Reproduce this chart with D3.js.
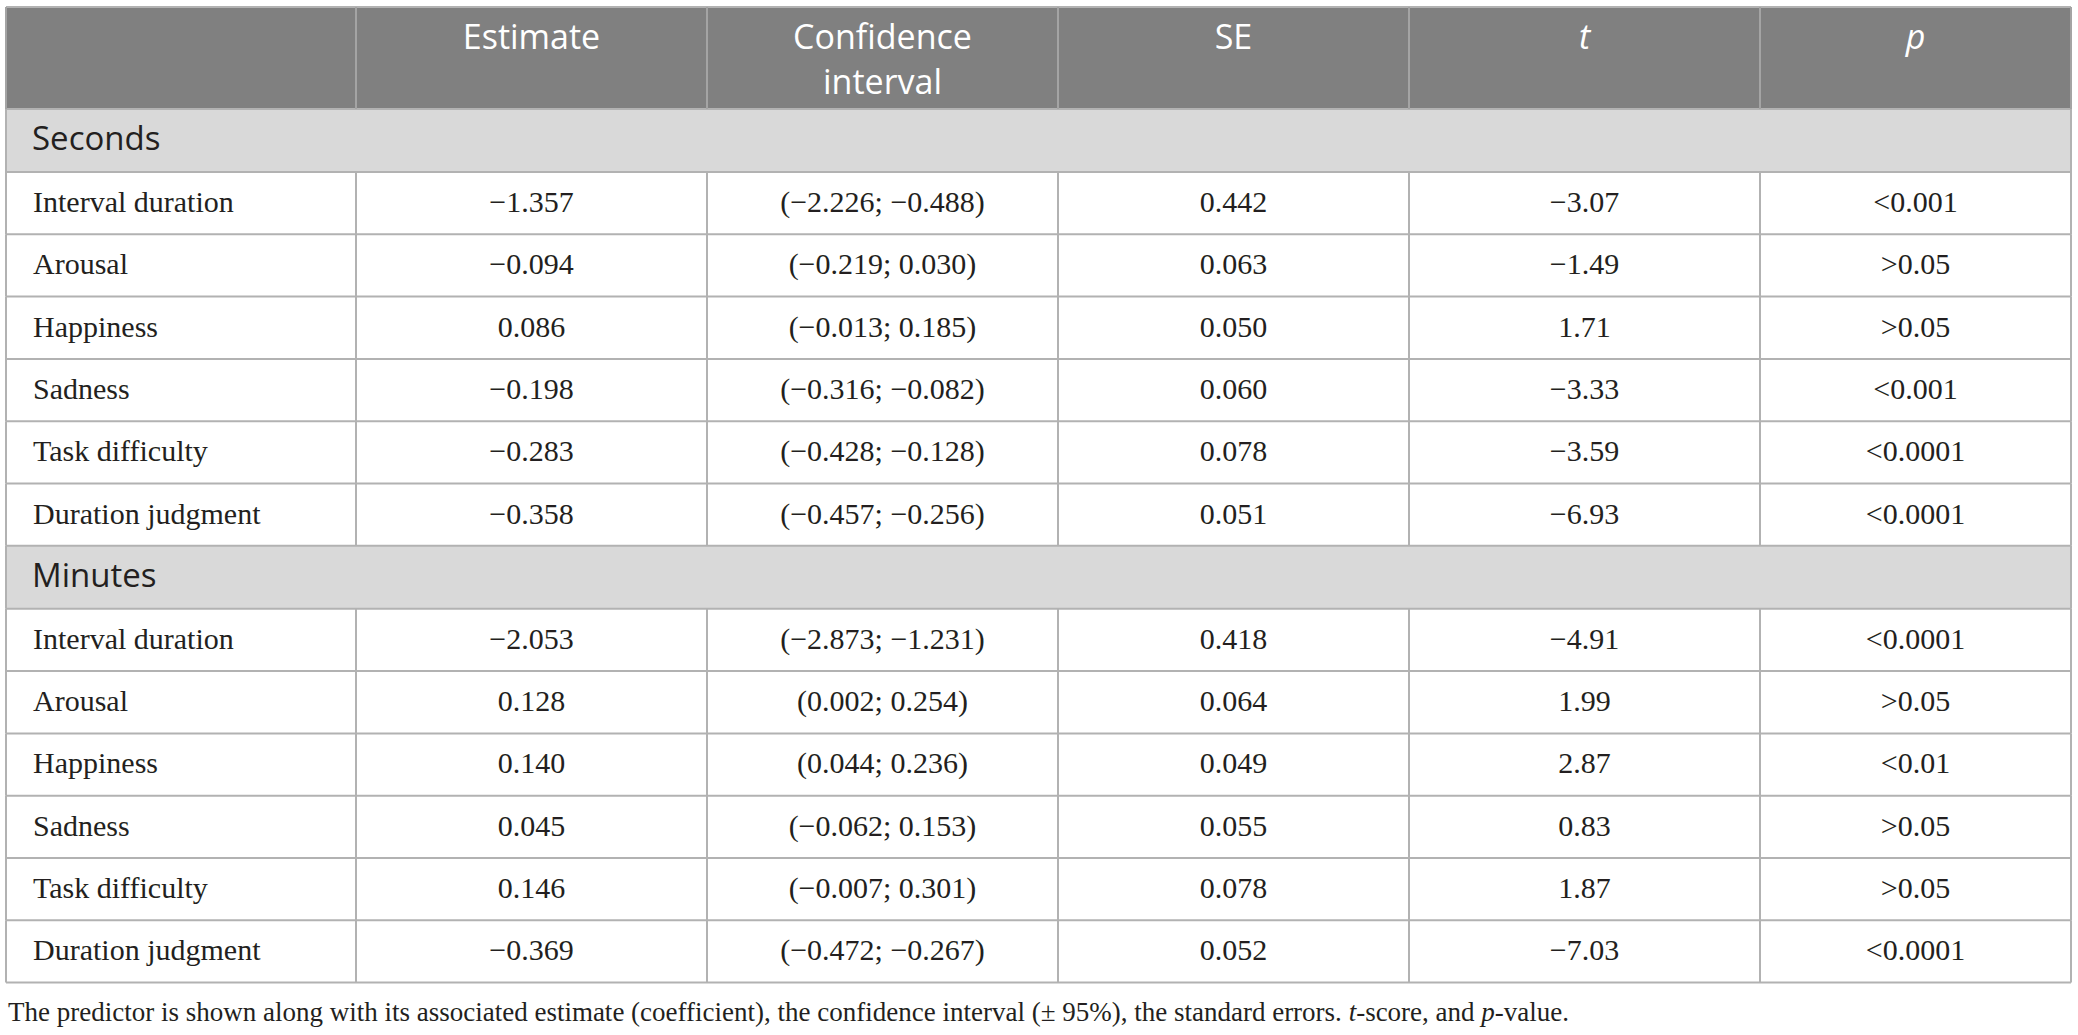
<!DOCTYPE html>
<html>
<head>
<meta charset="utf-8">
<script src="https://cdn.jsdelivr.net/npm/d3@7"></script>
<style>
  body { margin: 0; background: #fff; }
  svg { display: block; }
</style>
</head>
<body>
<svg id="chart" width="2078" height="1035"></svg>
<script>
// table content
const headers = ["", "Estimate", "Confidence|interval", "SE", "t", "p"];
const italicHeaders = ["t", "p"];
const sections = ["Seconds", "Minutes"];
const predictors = ["Interval duration", "Arousal", "Happiness", "Sadness", "Task difficulty", "Duration judgment"];

const estSeconds = [-1.357, -0.094, 0.086, -0.198, -0.283, -0.358];
const ciLowSeconds = [-2.226, -0.219, -0.013, -0.316, -0.428, -0.457];
const ciHighSeconds = [-0.488, 0.030, 0.185, -0.082, -0.128, -0.256];
const seSeconds = [0.442, 0.063, 0.050, 0.060, 0.078, 0.051];
const tSeconds = [-3.07, -1.49, 1.71, -3.33, -3.59, -6.93];
const pSeconds = ["<0.001", ">0.05", ">0.05", "<0.001", "<0.0001", "<0.0001"];

const estMinutes = [-2.053, 0.128, 0.140, 0.045, 0.146, -0.369];
const ciLowMinutes = [-2.873, 0.002, 0.044, -0.062, -0.007, -0.472];
const ciHighMinutes = [-1.231, 0.254, 0.236, 0.153, 0.301, -0.267];
const seMinutes = [0.418, 0.064, 0.049, 0.055, 0.078, 0.052];
const tMinutes = [-4.91, 1.99, 2.87, 0.83, 1.87, -7.03];
const pMinutes = ["<0.0001", ">0.05", "<0.01", ">0.05", ">0.05", "<0.0001"];

const footnote = [
  ["The predictor is shown along with its associated estimate (coefficient), the confidence interval (\u00b1 95%), the standard errors. ", false],
  ["t", true],
  ["-score, and ", false],
  ["p", true],
  ["-value.", false]
];

// layout
const tableLeft = 6, tableRight = 2071, tableTop = 7;
const colEdges = [tableLeft, 356, 707, 1058, 1409, 1760, tableRight];
const headerH = 102, sectionH = 63, rowH = 62.3;
const lineColor = "#b2b2b2";

const f3 = d3.format(".3f");
const f2 = d3.format(".2f");

function buildRows(est, lo, hi, se, t, p) {
  return predictors.map((name, i) => [
    name,
    f3(est[i]),
    `(${f3(lo[i])}; ${f3(hi[i])})`,
    f3(se[i]),
    f2(t[i]),
    p[i]
  ]);
}

const blocks = [
  { label: sections[0], rows: buildRows(estSeconds, ciLowSeconds, ciHighSeconds, seSeconds, tSeconds, pSeconds) },
  { label: sections[1], rows: buildRows(estMinutes, ciLowMinutes, ciHighMinutes, seMinutes, tMinutes, pMinutes) }
];

// flatten into a list of laid out rows
const layout = [];
let y = tableTop;
layout.push({ type: "header", y, h: headerH });
y += headerH;
blocks.forEach((b) => {
  layout.push({ type: "section", y, h: sectionH, label: b.label });
  y += sectionH;
  b.rows.forEach((cells) => {
    layout.push({ type: "row", y, h: rowH, cells });
    y += rowH;
  });
});
const tableBottom = y;

const svg = d3.select("#chart");

// backgrounds
svg.selectAll(".bg")
  .data(layout.filter((d) => d.type !== "row"))
  .join("rect")
  .attr("class", "bg")
  .attr("x", tableLeft)
  .attr("y", (d) => d.y)
  .attr("width", tableRight - tableLeft)
  .attr("height", (d) => d.h)
  .attr("fill", (d) => (d.type === "header" ? "#808080" : "#d9d9d9"));

// horizontal lines
svg.selectAll(".hline")
  .data(layout.map((d) => d.y).concat([tableBottom]))
  .join("line")
  .attr("class", "hline")
  .attr("x1", tableLeft)
  .attr("x2", tableRight)
  .attr("y1", (d) => d)
  .attr("y2", (d) => d)
  .attr("stroke", lineColor)
  .attr("stroke-width", 2);

// vertical lines: outer ones full height, inner ones skip section rows
const vSegments = [];
colEdges.forEach((x, i) => {
  const outer = i === 0 || i === colEdges.length - 1;
  layout.forEach((d) => {
    if (outer || d.type !== "section") vSegments.push({ x, y1: d.y, y2: d.y + d.h, header: d.type === "header" });
  });
});
svg.selectAll(".vline")
  .data(vSegments)
  .join("line")
  .attr("class", "vline")
  .attr("x1", (d) => d.x)
  .attr("x2", (d) => d.x)
  .attr("y1", (d) => d.y1)
  .attr("y2", (d) => d.y2)
  .attr("stroke", (d) => (d.header ? "#a4a4a4" : lineColor))
  .attr("stroke-width", 2);

// header text, one text element per line
const colCenter = (i) => (colEdges[i] + colEdges[i + 1]) / 2;
const headerLines = [];
headers.forEach((h, i) => {
  h.split("|").forEach((s, j) => headerLines.push({ text: s, col: i, line: j, italic: italicHeaders.includes(h) }));
});
svg.selectAll(".head")
  .data(headerLines)
  .join("text")
  .attr("class", "head")
  .attr("x", (d) => colCenter(d.col))
  .attr("y", (d) => tableTop + 33 + d.line * 45)
  .attr("text-anchor", "middle")
  .attr("dominant-baseline", "middle")
  .attr("fill", "#fff")
  .style("font-family", "'Open Sans', sans-serif")
  .style("font-size", "34px")
  .style("font-style", (d) => (d.italic ? "italic" : "normal"))
  .text((d) => d.text);

// section labels
svg.selectAll(".section")
  .data(layout.filter((d) => d.type === "section"))
  .join("text")
  .attr("class", "section")
  .attr("x", tableLeft + 26)
  .attr("y", (d) => d.y + d.h / 2 + 1)
  .attr("dominant-baseline", "middle")
  .attr("fill", "#231f20")
  .style("font-family", "'Open Sans', sans-serif")
  .style("font-size", "33px")
  .text((d) => d.label);

// body cells
const cells = [];
layout.filter((d) => d.type === "row").forEach((r) => {
  r.cells.forEach((c, i) => cells.push({ text: c, col: i, y: r.y + r.h / 2 }));
});
svg.selectAll(".cell")
  .data(cells)
  .join("text")
  .attr("class", "cell")
  .attr("x", (d) => (d.col === 0 ? tableLeft + 27 : colCenter(d.col)))
  .attr("y", (d) => d.y + 2)
  .attr("text-anchor", (d) => (d.col === 0 ? "start" : "middle"))
  .attr("dominant-baseline", "middle")
  .attr("fill", "#231f20")
  .style("font-family", "'Liberation Serif', serif")
  .style("font-size", "30px")
  .text((d) => d.text);

// footnote
svg.append("text")
  .attr("x", 8)
  .attr("y", 1021)
  .attr("fill", "#231f20")
  .style("font-family", "'Liberation Serif', serif")
  .style("font-size", "27px")
  .selectAll("tspan")
  .data(footnote)
  .join("tspan")
  .style("font-style", (d) => (d[1] ? "italic" : "normal"))
  .text((d) => d[0]);
</script>
</body>
</html>
